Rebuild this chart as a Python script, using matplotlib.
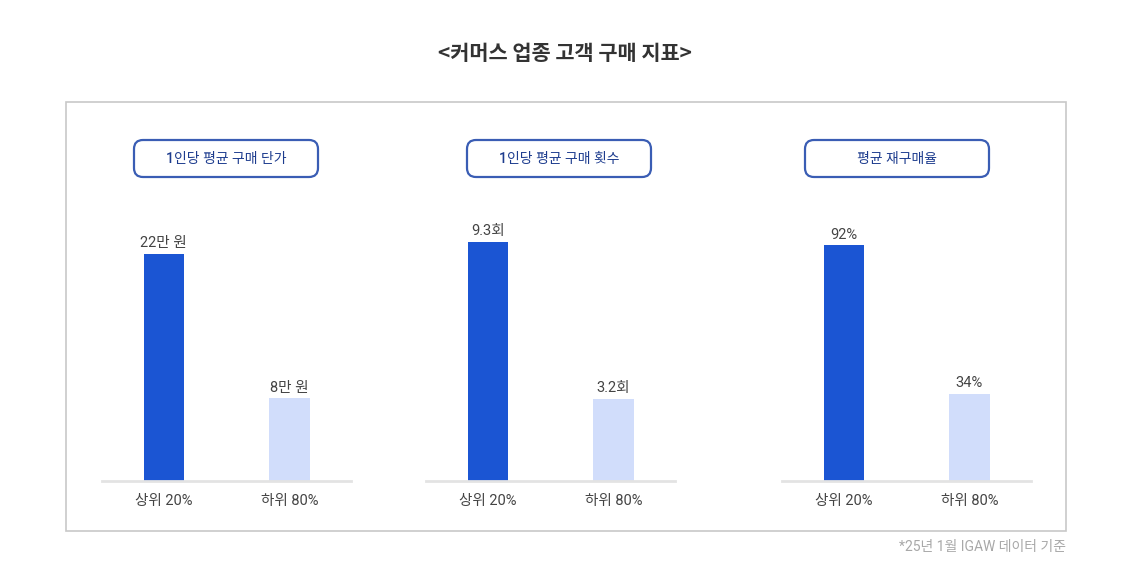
import matplotlib
matplotlib.use("Agg")
import matplotlib.pyplot as plt
from matplotlib.patches import FancyBboxPatch, Rectangle

plt.rcParams['font.family'] = ['Roboto', 'Noto Sans CJK KR', 'DejaVu Sans']

title = "<커머스 업종 고객 구매 지표>"
footnote = "*25년 1월 IGAW 데이터 기준"
categories = ["상위 20%", "하위 80%"]
panel_titles = ["1인당 평균 구매 단가", "1인당 평균 구매 횟수", "평균 재구매율"]
values_price = [22, 8]
values_count = [9.3, 3.2]
values_rebuy = [92, 34]
labels_price = ["22만 원", "8만 원"]
labels_count = ["9.3회", "3.2회"]
labels_rebuy = ["92%", "34%"]

W, H = 1131, 585
fig = plt.figure(figsize=(W / 100, H / 100), dpi=100)
fig.patch.set_facecolor("white")

# overlay in pixel coordinates
ov = fig.add_axes([0, 0, 1, 1])
ov.set_xlim(0, W)
ov.set_ylim(H, 0)
ov.axis("off")

ov.add_patch(Rectangle((66, 102), 1000, 429, fill=False, edgecolor="#c8c8c8", linewidth=1.2))
ov.text(565, 53, title, ha="center", va="center", fontsize=15, color="#333333",
        fontweight="bold", family=['Noto Sans CJK KR', 'DejaVu Sans'])
ov.text(1066, 547, footnote, ha="right", va="center", fontsize=10, color="#a8a8a8")

pill_centers = [226, 559, 897]
for cx, t in zip(pill_centers, panel_titles):
    ov.add_patch(FancyBboxPatch((cx - 92 + 9, 140 + 9), 184 - 18, 37 - 18,
                                boxstyle="round,pad=9", facecolor="white",
                                edgecolor="#3a5db4", linewidth=1.6))
    ov.text(cx, 158.5, t, ha="center", va="center", fontsize=10, color="#1d3c8e", fontweight="medium")

dark = "#1b55d3"
light = "#d1ddfb"

panels = [
    (102, values_price, labels_price, 27.2),
    (426, values_count, labels_count, 10.93),
    (782, values_rebuy, labels_rebuy, 109.6),
]
ax_bottom_px, ax_top_px = 481, 200
for left_px, vals, labs, ymax in panels:
    ax = fig.add_axes([left_px / W, (H - ax_bottom_px) / H, 249 / W, (ax_bottom_px - ax_top_px) / H])
    ax.patch.set_alpha(0)
    x = [0, 1]
    ax.bar(x, vals, width=0.32, color=[dark, light], zorder=2)
    ax.set_xlim(-0.49, 1.49)
    ax.set_ylim(0, ymax)
    for s in ["top", "left", "right"]:
        ax.spines[s].set_visible(False)
    ax.spines["bottom"].set_color("#e3e3e3")
    ax.spines["bottom"].set_linewidth(2)
    ax.set_yticks([])
    ax.set_xticks(x)
    ax.set_xticklabels(categories, fontsize=10.5, color="#444444")
    ax.tick_params(axis="x", length=0, pad=9.5)
    for xi, v, l in zip(x, vals, labs):
        ax.annotate(l, (xi, v), xytext=(0, 2.5), textcoords="offset points",
                    ha="center", va="bottom", fontsize=10.5, color="#444444")

fig.savefig("out.png", dpi=100)
